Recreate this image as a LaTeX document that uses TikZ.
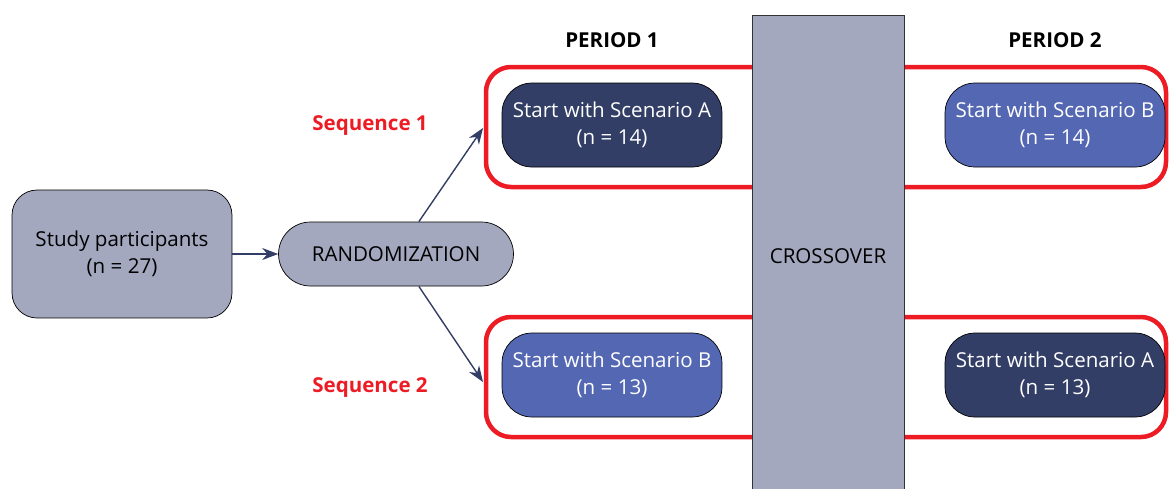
\documentclass[tikz,border=0pt]{standalone}
\usepackage{fontspec}
\setmainfont{Open Sans}
\usepackage{xcolor}
\usetikzlibrary{arrows.meta,positioning}

\definecolor{boxgray}{HTML}{A3A8BF}
\definecolor{navy}{HTML}{323E66}
\definecolor{midblue}{HTML}{5467B2}
\definecolor{seqred}{HTML}{ED1C24}

\begin{document}
\begin{tikzpicture}[x=0.02cm,y=-0.02cm,
    txt/.style={font=\fontsize{11.7}{15.3}\selectfont,align=center},
    bold/.style={font=\fontsize{11.7}{15.3}\selectfont\bfseries},
    graybox/.style={txt,draw=black,fill=boxgray,rounded corners=0.5cm,thin},
    scenbox/.style={txt,draw=black,text=white,rounded corners=0.6cm,
        minimum width=4.4cm,minimum height=1.68cm,thin},
    seqframe/.style={draw=seqred,line width=0.09cm,rounded corners=0.5cm},
    link/.style={-{Stealth[length=0.32cm,width=0.24cm]},draw=navy,thick}]
    \useasboundingbox (0,0) rectangle (1170,488);

    % Sequence frames
    \draw[seqframe] (486,67) rectangle (1166,187);
    \draw[seqframe] (486,317) rectangle (1166,437);

    % Crossover
    \node[draw=black!80,fill=boxgray,thin,minimum width=3.04cm,minimum height=9.6cm,
        anchor=north] (cross) at (828,15) {};
    \node[txt] (crosstxt) at (828,256) {CROSSOVER};

    % Participants and randomization
    \node[graybox,minimum width=4.4cm,minimum height=2.56cm] (study) at (122,254)
        {Study participants\\(n = 27)};
    \node[graybox,rounded corners=0.64cm,minimum width=4.7cm,minimum height=1.28cm]
        (rand) at (396,254) {RANDOMIZATION};

    % Period labels
    \node[bold] (per1) at (612,40) {PERIOD 1};
    \node[bold] (per2) at (1055,40) {PERIOD 2};

    % Scenario boxes
    \node[scenbox,fill=navy] (a1) at (612,125) {Start with Scenario A\\(n = 14)};
    \node[scenbox,fill=midblue] (b1) at (1055,125) {Start with Scenario B\\(n = 14)};
    \node[scenbox,fill=midblue] (b2) at (612,375) {Start with Scenario B\\(n = 13)};
    \node[scenbox,fill=navy] (a2) at (1055,375) {Start with Scenario A\\(n = 13)};

    % Sequence labels
    \node[bold,text=seqred] (seq1) at (370,126) {Sequence 1};
    \node[bold,text=seqred] (seq2) at (370,388) {Sequence 2};

    % Arrows
    \coordinate (in1) at (483,128);
    \coordinate (in2) at (483,382);
    \draw[link] (study) -- (rand);
    \draw[link] (rand.north east) ++(-1.9cm,0) -- (in1);
    \draw[link] (rand.south east) ++(-1.9cm,0) -- (in2);
\end{tikzpicture}
\end{document}
